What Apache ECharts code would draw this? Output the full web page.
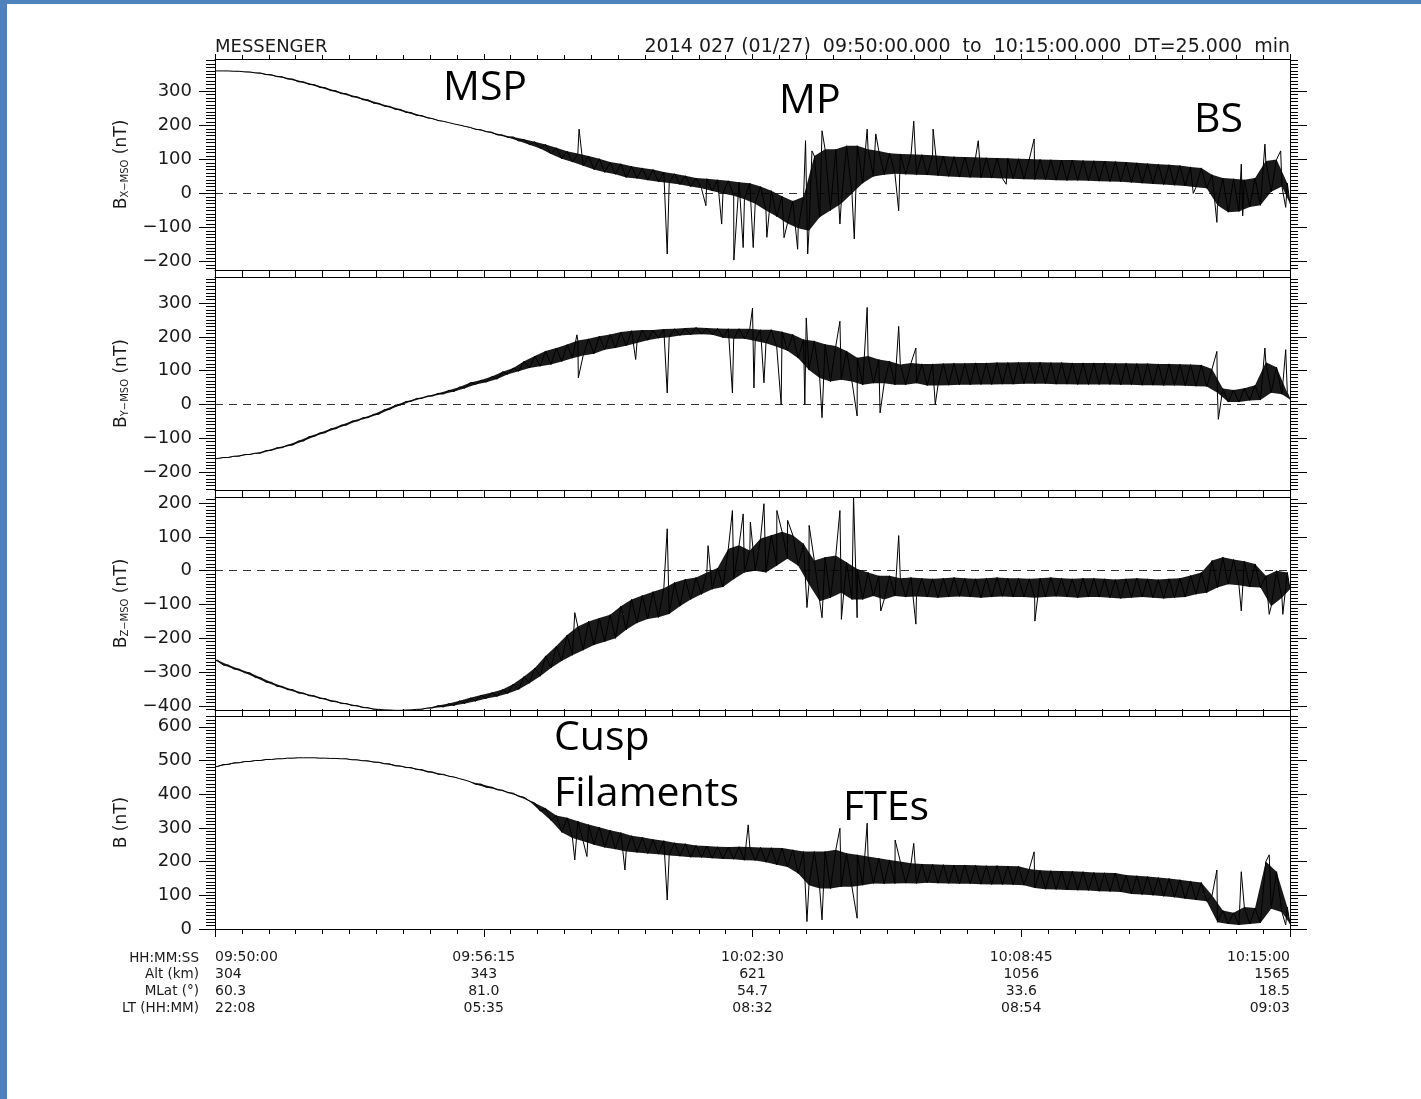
<!DOCTYPE html>
<html><head><meta charset="utf-8">
<script src="https://cdn.jsdelivr.net/npm/echarts@6/dist/echarts.min.js"></script>
<style>html,body{margin:0;padding:0;background:#fff;overflow:hidden}#chart{width:1421px;height:1099px}</style>
</head><body><div id="chart"></div>
<script>
// ---------- DATA ----------
// time axis: seconds after 09:50:00, bins every 15 s (101 bins: 0..1500 s)
const BIN_SECONDS = 15;
const timeTickValues = [0, 375, 750, 1125, 1500];
const timeLabels = ['09:50:00', '09:56:15', '10:02:30', '10:08:45', '10:15:00'];
const altLabels  = ['304', '343', '621', '1056', '1565'];
const mlatLabels = ['60.3', '81.0', '54.7', '33.6', '18.5'];
const ltLabels   = ['22:08', '05:35', '08:32', '08:54', '09:03'];
const rowHeaders = ['HH:MM:SS', 'Alt (km)', 'MLat (°)', 'LT (HH:MM)'];

// Bx (nT): low / high envelope of each 15 s bin
const bxLow = [360,360,359,357,354,349,343,336,328,320,311,302,293,284,275,265,256,247,238,229,
  220,212,204,197,188,181,172,164,154,143,132,116,102,92,81,70,62,56,47,44,
  39,34,31,26,20,15,7,0,-7,-17,-30,-50,-68,-88,-102,-110,-70,-50,-30,0,
  30,50,55,58,56,55,54,52,50,48,47,46,45,44,43,42,41,40,39,38,
  38,37,36,35,34,32,30,28,26,24,22,18,15,-35,-55,-53,-40,-35,5,20,-30];
const bxHigh = [360,360,359,357,354,349,343,336,328,320,311,302,293,284,275,265,256,247,238,229,
  222,214,208,201,194,187,180,172,166,159,152,144,134,124,117,110,102,92,87,80,
  75,70,63,58,52,45,43,40,37,33,30,20,8,-8,-22,-10,110,130,130,140,
  140,130,125,118,116,115,114,112,110,108,107,106,105,104,103,102,101,100,99,98,
  98,97,96,95,94,92,90,88,86,84,82,78,75,55,45,43,40,45,95,100,30];
const bxSpikes = [[508,189],[631,-178],[685,-36],[707,-90],[724,-196],[737,-159],[751,-159],[770,-129],
  [794,-130],[813,-164],[824,155],[827,-178],[833,125],[847,184],[872,-90],[892,-134],[910,189],[922,175],
  [954,-51],[975,212],[1002,189],[1065,155],[1104,27],[1143,160],[1365,0],[1398,-85],[1432,86],[1434,-66],
  [1465,145],[1487,125],[1494,-41]];

// By (nT)
const byLow = [-160,-157,-153,-148,-144,-136,-128,-120,-108,-95,-84,-72,-61,-49,-39,-29,-15,-2,9,18,
  25,31,38,48,59,66,75,89,98,108,113,118,127,137,145,150,162,167,174,182,
  190,196,199,204,206,208,206,197,194,194,188,181,171,159,137,102,78,68,73,68,
  58,63,63,58,58,63,56,56,57,58,58,59,59,60,60,61,61,61,60,60,
  59,59,59,59,58,58,57,57,56,56,55,54,53,35,7,7,12,13,35,30,15];
const byHigh = [-160,-157,-153,-148,-144,-136,-128,-120,-108,-95,-84,-72,-61,-49,-39,-29,-15,-2,9,18,
  25,33,42,52,65,72,83,97,108,128,143,158,167,177,189,194,202,207,214,218,
  220,220,223,224,226,228,226,225,224,224,224,221,221,215,207,192,188,178,173,158,
  138,143,133,128,118,123,120,120,121,122,122,123,123,124,124,125,125,125,124,124,
  123,123,123,123,122,122,121,121,120,120,119,118,117,105,47,43,48,57,125,110,35];
const bySpikes = [[505,206],[507,79],[587,133],[631,34],[688,231],[722,34],[750,285],[752,49],[766,64],
  [790,0],[823,0],[825,256],[847,-39],[872,246],[896,-34],[910,287],[928,-25],[954,231],[978,167],
  [1005,0],[1398,157],[1400,-44],[1465,167],[1494,162]];

// Bz (nT)
const bzLow = [-265,-279,-291,-302,-316,-330,-342,-352,-362,-370,-378,-386,-393,-399,-405,-410,-412,-413,-412,-410,
  -406,-403,-399,-393,-386,-378,-372,-363,-351,-333,-312,-288,-267,-250,-235,-220,-210,-200,-175,-155,
  -143,-138,-128,-105,-85,-70,-55,-48,-25,-5,0,-5,15,35,15,-40,-90,-80,-65,-85,
  -85,-75,-85,-75,-78,-76,-78,-80,-78,-76,-78,-80,-78,-76,-78,-78,-80,-78,-76,-78,
  -80,-78,-78,-80,-82,-80,-78,-80,-82,-80,-78,-70,-65,-50,-40,-43,-48,-50,-105,-80,-55];
const bzHigh = [-265,-279,-291,-302,-316,-330,-342,-352,-362,-370,-378,-386,-393,-399,-405,-410,-412,-413,-412,-410,
  -406,-399,-393,-385,-376,-368,-360,-351,-335,-313,-288,-252,-223,-190,-165,-150,-140,-130,-105,-85,
  -73,-62,-52,-35,-25,-20,-5,8,65,75,60,95,105,115,105,80,30,40,45,25,
  5,-5,-15,-15,-22,-20,-22,-24,-22,-20,-22,-24,-22,-20,-22,-22,-24,-22,-20,-22,
  -24,-22,-22,-24,-26,-24,-22,-24,-26,-24,-22,-14,-5,30,40,33,28,20,-15,0,-5];
const bzSpikes = [[502,-124],[631,124],[688,74],[722,178],[737,168],[747,144],[766,198],[784,178],[799,149],
  [826,-109],[829,134],[847,-139],[872,178],[874,-144],[891,218],[896,-139],[929,-119],[954,104],[978,-158],
  [1144,-149],[1432,-119],[1471,-129],[1490,-129]];

// |B| (nT)
const bLow = [482,488,493,497,500,503,505,507,508,508,507,506,505,502,499,495,490,484,479,473,
  466,459,451,442,429,420,413,404,393,379,350,322,287,270,260,250,242,237,230,227,
  224,222,218,216,213,212,210,208,207,204,203,198,191,184,165,130,120,120,125,125,
  130,135,134,135,136,135,137,136,135,134,134,133,132,132,131,130,122,118,117,116,
  115,114,112,111,110,104,102,100,97,94,90,86,82,20,15,12,15,18,60,50,15];
const bHigh = [482,488,493,497,500,503,505,507,508,508,507,506,505,502,499,495,490,484,479,473,
  466,459,453,446,437,430,421,412,403,391,374,358,337,330,320,310,302,293,286,277,
  272,266,262,256,253,248,246,244,243,244,243,242,241,240,235,230,230,230,235,225,
  220,215,210,205,200,195,193,192,191,190,190,189,188,188,187,186,178,174,173,172,
  171,170,168,167,166,160,158,156,153,150,146,142,138,100,55,48,65,62,200,170,65];
const bSpikes = [[502,205],[519,215],[572,175],[631,86],[744,309],[826,22],[847,27],[872,299],[896,32],
  [910,314],[949,264],[975,254],[1143,229],[1398,175],[1432,170],[1471,220],[1494,12]];

// axes
const bxTicks = [-200,-100,0,100,200,300];
const byTicks = [-200,-100,0,100,200,300];
const bzTicks = [-400,-300,-200,-100,0,100,200];
const bTicks  = [0,100,200,300,400,500,600];

// ---------- LAYOUT ----------
const panels = [
  {low:bxLow, high:bxHigh, spikes:bxSpikes, ticks:bxTicks, min:-225, max:395, top:59,  h:211, sub:'X−MSO', zero:true},
  {low:byLow, high:byHigh, spikes:bySpikes, ticks:byTicks, min:-253, max:377, top:277, h:213, sub:'Y−MSO', zero:true},
  {low:bzLow, high:bzHigh, spikes:bzSpikes, ticks:bzTicks, min:-412, max:218, top:497, h:213, sub:'Z−MSO', zero:true},
  {low:bLow,  high:bHigh,  spikes:bSpikes,  ticks:bTicks,  min:0,    max:632, top:716, h:213, sub:null,     zero:false}
];
const FONT = 'DejaVu Sans';
const INK = '#1a1a1a';
const fmtNum = v => (v < 0 ? '−' + Math.abs(v) : String(v));

function minorValues(min, max){
  const out = [];
  for (let v = Math.ceil(min/10)*10; v <= max; v += 10) out.push(v);
  return out;
}
function buildTrace(low, high, spikes){
  const pts = [];
  const q = BIN_SECONDS/4;
  for (let i = 0; i < low.length; i++){
    const t = i*BIN_SECONDS;
    pts.push([Math.max(0, t-q), high[i]]);
    pts.push([Math.min(1500, t+q), low[i]]);
  }
  spikes.forEach(s => pts.push(s));
  pts.sort((a,b) => a[0]-b[0]);
  return pts;
}

const grid = [], xAxis = [], yAxis = [], series = [];
panels.forEach((p, g) => {
  grid.push({left:215, width:1075, top:p.top, height:p.h, containLabel:false, outerBoundsMode:'none'});
  const isLast = g === panels.length-1;
  const xBase = {gridIndex:g, type:'value', min:0, max:1500, interval:375,
    axisLine:{show:true, onZero:false, lineStyle:{color:'#000', width:1}},
    splitLine:{show:false}, minorSplitLine:{show:false}};
  xAxis.push(Object.assign({}, xBase, {position:'bottom',
    axisTick:{show:true, length: isLast ? 8 : 7, lineStyle:{color:'#000'}},
    minorTick:{show:true, splitNumber:10, length: isLast ? 5 : 7, lineStyle:{color:'#000'}},
    axisLabel: isLast ? {show:true, margin:20, fontFamily:FONT, fontSize:14, lineHeight:17, color:INK,
      alignMinLabel:'left', alignMaxLabel:'right', showMinLabel:true, showMaxLabel:true,
      formatter: v => { const k = timeTickValues.indexOf(v); if (k < 0) return '';
        return [timeLabels[k], altLabels[k], mlatLabels[k], ltLabels[k]].join('\n'); }} : {show:false}
  }));
  xAxis.push(Object.assign({}, xBase, {position:'top',
    axisTick:{show:true, length: g === 0 ? 5 : 7, lineStyle:{color:'#000'}},
    minorTick:{show:true, splitNumber:10, length: g === 0 ? 4 : 7, lineStyle:{color:'#000'}},
    axisLabel:{show:false}}));

  const yBase = {gridIndex:g, type:'value', min:p.min, max:p.max, splitLine:{show:false}};
  const minors = minorValues(p.min, p.max);
  yAxis.push(Object.assign({}, yBase, {position:'left',
    axisLine:{show:true, onZero:false, lineStyle:{color:'#000', width:1}},
    axisTick:{show:true, length:16, customValues:p.ticks, lineStyle:{color:'#000'}},
    axisLabel:{show:true, customValues:p.ticks, margin:23, fontFamily:FONT, fontSize:18, color:INK, formatter: fmtNum},
    name: p.sub ? '{b|B}{s|' + p.sub + '} {b|(nT)}' : '{b|B (nT)}',
    nameLocation:'middle', nameRotate:90, nameGap:85, nameMoveOverlap:false,
    nameTextStyle:{fontFamily:FONT, fontSize:17, color:INK,
      rich:{b:{fontFamily:FONT, fontSize:17, color:INK}, s:{fontFamily:FONT, fontSize:10, color:INK, verticalAlign:'bottom'}}}
  }));
  yAxis.push(Object.assign({}, yBase, {position:'left',
    axisLine:{show:false, onZero:false}, axisLabel:{show:false},
    axisTick:{show:true, length:9, customValues:minors, lineStyle:{color:'#000'}}}));
  yAxis.push(Object.assign({}, yBase, {position:'right',
    axisLine:{show:true, onZero:false, lineStyle:{color:'#000', width:1}}, axisLabel:{show:false},
    axisTick:{show:true, length:17, customValues:p.ticks, lineStyle:{color:'#000'}}}));
  yAxis.push(Object.assign({}, yBase, {position:'right',
    axisLine:{show:false, onZero:false}, axisLabel:{show:false},
    axisTick:{show:true, length:8, customValues:minors, lineStyle:{color:'#000'}}}));

  // dense noisy band (min/max envelope) drawn through the axes' scales
  series.push({type:'custom', xAxisIndex:2*g, yAxisIndex:4*g, data:[[0,0]], silent:true, z:1, clip:true,
    renderItem: (params, api) => {
      const q = BIN_SECONDS/4, pts = [];
      for (let i = 0; i < p.high.length; i++) pts.push(api.coord([Math.max(0, i*BIN_SECONDS-q), p.high[i]]));
      for (let i = p.low.length-1; i >= 0; i--) pts.push(api.coord([Math.min(1500, i*BIN_SECONDS+q), p.low[i]]));
      return {type:'polygon', shape:{points:pts}, style:{fill:'rgba(0,0,0,0.9)', stroke:null, lineWidth:0}};
    }});
  const line = {type:'line', xAxisIndex:2*g, yAxisIndex:4*g, data:buildTrace(p.low, p.high, p.spikes),
    showSymbol:false, symbol:'none', silent:true, z:2, clip:true,
    lineStyle:{color:'#000', width:1}};
  if (p.zero) line.markLine = {silent:true, symbol:['none','none'], label:{show:false},
    lineStyle:{type:[8,6], color:'#333', width:1}, data:[{yAxis:0}], animation:false, z:0};
  series.push(line);
});

const ANN = '41px "Open Sans"';
const graphic = [
  {type:'rect', shape:{x:0, y:0, width:7, height:1099}, style:{fill:'#4f81bd'}, z:100},
  {type:'rect', shape:{x:0, y:0, width:1421, height:4}, style:{fill:'#4f81bd'}, z:100},
  {type:'text', x:215, y:47.5, style:{text:'MESSENGER', font:'18px "DejaVu Sans"', fill:INK, align:'left', verticalAlign:'middle'}},
  {type:'text', x:1290, y:47.5, style:{text:'2014 027 (01/27)  09:50:00.000  to  10:15:00.000  DT=25.000  min', font:'19px "DejaVu Sans"', fill:INK, align:'right', verticalAlign:'middle'}},
  {type:'text', x:443, y:88, style:{text:'MSP', font:ANN, fill:'#000', align:'left', verticalAlign:'middle'}, z:50},
  {type:'text', x:779, y:101, style:{text:'MP', font:ANN, fill:'#000', align:'left', verticalAlign:'middle'}, z:50},
  {type:'text', x:1194, y:120, style:{text:'BS', font:ANN, fill:'#000', align:'left', verticalAlign:'middle'}, z:50},
  {type:'text', x:554, y:738, style:{text:'Cusp', font:ANN, fill:'#000', align:'left', verticalAlign:'middle'}, z:50},
  {type:'text', x:554, y:794, style:{text:'Filaments', font:ANN, fill:'#000', align:'left', verticalAlign:'middle'}, z:50},
  {type:'text', x:843, y:808, style:{text:'FTEs', font:ANN, fill:'#000', align:'left', verticalAlign:'middle'}, z:50}
];
const rowY = [958, 974.5, 991, 1008];
rowHeaders.forEach((h, k) => graphic.push({type:'text', x:199, y:rowY[k],
  style:{text:h, font:'13.5px "DejaVu Sans"', fill:INK, align:'right', verticalAlign:'middle'}}));

const chart = echarts.init(document.getElementById('chart'), null, {renderer:'canvas', width:1421, height:1099});
chart.setOption({
  backgroundColor:'#fff', animation:false,
  textStyle:{fontFamily:FONT},
  grid, xAxis, yAxis, series, graphic
});
</script>
</body></html>
